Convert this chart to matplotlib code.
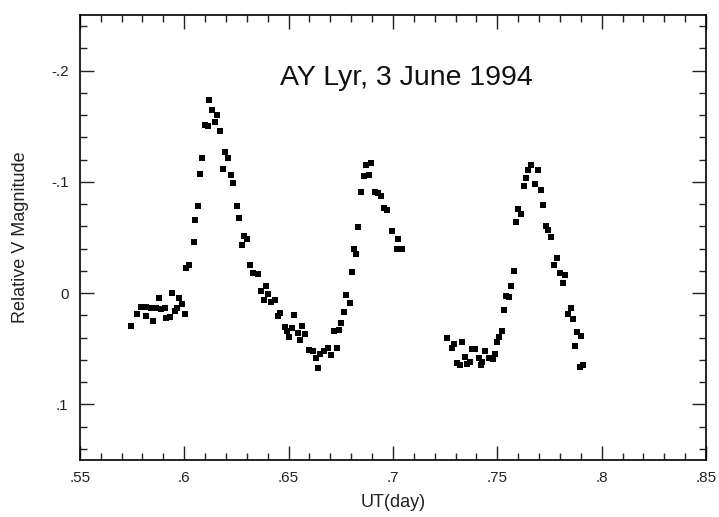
import matplotlib
matplotlib.use("Agg")
import matplotlib.pyplot as plt
from matplotlib.ticker import MultipleLocator, FuncFormatter

plt.rcParams["font.family"] = ["Liberation Sans", "DejaVu Sans"]

# 三段观测数据 (UT day, relative V magnitude)
ut_1 = [0.5747, 0.5775, 0.5795, 0.5816, 0.5818, 0.5841, 0.5852, 0.5865, 0.5878, 0.5889,
        0.5909, 0.5915, 0.5931, 0.5941, 0.5955, 0.5966, 0.5976, 0.5990, 0.6003, 0.6011,
        0.6023, 0.6045, 0.6054, 0.6066, 0.6077, 0.6085, 0.6100, 0.6112, 0.6120, 0.6133,
        0.6146, 0.6159, 0.6173, 0.6186, 0.6196, 0.6212, 0.6225, 0.6236, 0.6251, 0.6264,
        0.6277, 0.6288, 0.6303, 0.6316, 0.6328, 0.6356, 0.6367, 0.6380, 0.6391, 0.6402,
        0.6417, 0.6436, 0.6449]
mag_1 = [0.0295, 0.0190, 0.0122, 0.0208, 0.0125, 0.0130, 0.0250, 0.0135, 0.0042, 0.0140,
         0.0131, 0.0220, 0.0214, -0.0003, 0.0160, 0.0130, 0.0047, 0.0100, 0.0190, -0.0226,
         -0.0256, -0.0464, -0.0658, -0.0786, -0.1074, -0.1212, -0.1515, -0.1500, -0.1738, -0.1649,
         -0.1536, -0.1601, -0.1458, -0.1116, -0.1268, -0.1217, -0.1063, -0.0991, -0.0786, -0.0676,
         -0.0429, -0.0518, -0.0488, -0.0250, -0.0179, -0.0172, -0.0018, 0.0065, -0.0063, 0.0006,
         0.0078, 0.0063, 0.0205]

ut_2 = [0.6460, 0.6481, 0.6492, 0.6503, 0.6516, 0.6527, 0.6545, 0.6553, 0.6564, 0.6577,
        0.6596, 0.6617, 0.6633, 0.6641, 0.6652, 0.6668, 0.6689, 0.6705, 0.6716, 0.6731,
        0.6740, 0.6753, 0.6766, 0.6777, 0.6792, 0.6803, 0.6814, 0.6824, 0.6835, 0.6848,
        0.6861, 0.6872, 0.6885, 0.6894, 0.6913, 0.6929, 0.6941, 0.6957, 0.6973, 0.6994,
        0.7018, 0.7025, 0.7042]
mag_2 = [0.0176, 0.0304, 0.0339, 0.0393, 0.0310, 0.0199, 0.0357, 0.0420, 0.0295, 0.0363,
         0.0512, 0.0518, 0.0578, 0.0676, 0.0547, 0.0518, 0.0488, 0.0556, 0.0339, 0.0491,
         0.0333, 0.0271, 0.0172, 0.0012, 0.0087, -0.0188, -0.0399, -0.0351, -0.0596, -0.0913,
         -0.1051, -0.1149, -0.1060, -0.1172, -0.0911, -0.0904, -0.0875, -0.0768, -0.0747, -0.0560,
         -0.0396, -0.0488, -0.0396]

ut_3 = [0.7261, 0.7282, 0.7293, 0.7309, 0.7321, 0.7330, 0.7345, 0.7357, 0.7369, 0.7381,
        0.7393, 0.7410, 0.7422, 0.7429, 0.7442, 0.7458, 0.7477, 0.7489, 0.7499, 0.7510,
        0.7521, 0.7534, 0.7542, 0.7558, 0.7567, 0.7582, 0.7591, 0.7601, 0.7615, 0.7626,
        0.7638, 0.7649, 0.7660, 0.7681, 0.7694, 0.7707, 0.7720, 0.7734, 0.7745, 0.7758,
        0.7771, 0.7785, 0.7798, 0.7814, 0.7825, 0.7838, 0.7851, 0.7862, 0.7873, 0.7883,
        0.7894, 0.7902, 0.7910]
mag_3 = [0.0404, 0.0494, 0.0453, 0.0628, 0.0643, 0.0435, 0.0574, 0.0637, 0.0616, 0.0503,
         0.0503, 0.0578, 0.0646, 0.0622, 0.0518, 0.0578, 0.0592, 0.0547, 0.0435, 0.0393,
         0.0339, 0.0154, 0.0027, 0.0033, -0.0063, -0.0196, -0.0640, -0.0753, -0.0708, -0.0962,
         -0.1036, -0.1104, -0.1149, -0.0979, -0.1104, -0.0931, -0.0792, -0.0604, -0.0569, -0.0509,
         -0.0250, -0.0315, -0.0181, -0.0092, -0.0167, 0.0190, 0.0131, 0.0229, 0.0473, 0.0348,
         0.0667, 0.0384, 0.0646]

x_ticks = [0.55, 0.60, 0.65, 0.70, 0.75, 0.80, 0.85]
y_ticks = [-0.2, -0.1, 0.0, 0.1]


def short_fmt(v, pos=None):
    """去掉前导零：0.55 -> .55, -0.2 -> -.2"""
    s = f"{v:.2f}".rstrip("0").rstrip(".")
    if s in ("-0", ""):
        s = "0"
    s = s.replace("0.", ".", 1) if s.startswith("0.") else s.replace("-0.", "-.", 1)
    return s


fig = plt.figure(figsize=(7.19, 5.17), dpi=100)
ax = fig.add_axes([0.111, 0.110, 0.871, 0.861])

for ut, mag in [(ut_1, mag_1), (ut_2, mag_2), (ut_3, mag_3)]:
    ax.plot(ut, mag, "s", color="black", markersize=3.8, markeredgewidth=0)

ax.set_xlim(0.55, 0.85)
ax.set_ylim(0.15, -0.25)  # 星等轴反向

ax.set_xticks(x_ticks)
ax.set_yticks(y_ticks)
ax.xaxis.set_minor_locator(MultipleLocator(0.01))
ax.yaxis.set_minor_locator(MultipleLocator(0.02))
ax.xaxis.set_major_formatter(FuncFormatter(short_fmt))
ax.yaxis.set_major_formatter(FuncFormatter(short_fmt))

ax.tick_params(which="both", direction="in", top=True, right=True, colors="#222",
               labelsize=11, width=1.0)
ax.tick_params(which="major", length=10, pad=8)
ax.tick_params(which="minor", length=5)
for sp in ax.spines.values():
    sp.set_linewidth(1.2)

ax.text(0.646, -0.193, "AY Lyr, 3 June 1994", fontsize=20.5, color="#111", va="center")

ax.set_xlabel("UT(day)", fontsize=13, color="#222", labelpad=6)
ax.set_ylabel("Relative V Magnitude", fontsize=13, color="#222", labelpad=16)

fig.savefig("out.png", dpi=100)
